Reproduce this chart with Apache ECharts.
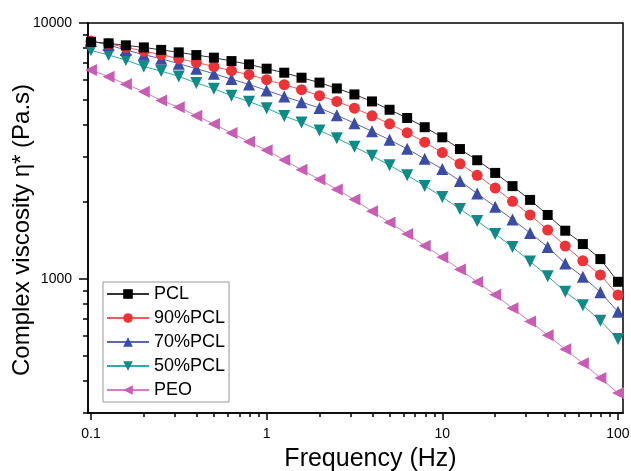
<!DOCTYPE html>
<html>
<head>
<meta charset="utf-8">
<script src="https://cdn.jsdelivr.net/npm/echarts@6/dist/echarts.min.js"></script>
<style>
html,body{margin:0;padding:0;background:#fff;}
#chart{width:631px;height:471px;}
</style>
</head>
<body>
<div id="chart"></div>
<script>
// Frequency (Hz)
var freq = [0.1, 0.126, 0.158, 0.2, 0.251, 0.316, 0.398, 0.501, 0.631, 0.794,
            1, 1.26, 1.58, 2, 2.51, 3.16, 3.98, 5.01, 6.31, 7.94,
            10, 12.6, 15.8, 20, 25.1, 31.6, 39.8, 50.1, 63.1, 79.4, 100];
// Complex viscosity (Pa.s)
var pcl = [8440, 8330, 8180, 8030, 7855, 7680, 7496, 7322, 7101, 6893,
           6631, 6396, 6115, 5850, 5553, 5261, 4940, 4584, 4257, 3918,
           3578, 3219, 2911, 2598, 2307, 2038, 1780, 1545, 1370, 1197, 976];
var pcl90 = [8480, 8290, 8033, 7765, 7524, 7257, 7018, 6758, 6514, 6283,
             6007, 5741, 5488, 5204, 4940, 4650, 4342, 4041, 3729, 3423,
             3119, 2821, 2543, 2266, 2012, 1780, 1555, 1346, 1179, 1038, 866];
var pcl70 = [8504, 8200, 7843, 7524, 7257, 6937, 6631, 6339, 6039, 5757,
             5454, 5166, 4908, 4658, 4362, 4063, 3776, 3498, 3225, 2948,
             2689, 2417, 2157, 1918, 1709, 1514, 1334, 1151, 1021, 889, 745];
var pcl50 = [7822, 7496, 7166, 6758, 6490, 6188, 5834, 5538, 5200, 4931,
             4650, 4334, 4088, 3803, 3545, 3287, 3031, 2782, 2543, 2311,
             2093, 1879, 1686, 1500, 1334, 1172, 1027, 892, 791, 687, 584];
var peo = [6560, 6171, 5771, 5390, 4984, 4693, 4342, 4033, 3719, 3439,
           3182, 2916, 2670, 2450, 2240, 2044, 1839, 1665, 1500, 1350,
           1217, 1090, 974, 868, 769, 683, 604, 532, 469, 411, 359];
var seriesNames = ['PCL', '90%PCL', '70%PCL', '50%PCL', 'PEO'];
// Tick values
var xMajor = [0.1, 1, 10, 100];
var xMinor = [0.2, 0.3, 0.4, 0.5, 0.6, 0.7, 0.8, 0.9,
              2, 3, 4, 5, 6, 7, 8, 9,
              20, 30, 40, 50, 60, 70, 80, 90];
var yMajor = [1000, 10000];
var yMinor = [300, 400, 500, 600, 700, 800, 900,
              2000, 3000, 4000, 5000, 6000, 7000, 8000, 9000];

function pairs(ys) {
  return freq.map(function (f, i) { return [f, ys[i]]; });
}

var FONT = 'Arial, "Liberation Sans", sans-serif';
var xMin = 0.0962, xMax = 106.8, yMin = 300, yMax = 10000;

var styles = [
  { color: '#000000', line: '#333333', symbol: 'rect', size: 10, rot: 0 },
  { color: '#ee3338', line: '#ee5a5e', symbol: 'circle', size: 11, rot: 0 },
  { color: '#3a4ca6', line: '#5a68b4', symbol: 'triangle', size: 12, rot: 0 },
  { color: '#0e8a87', line: '#30aaa6', symbol: 'triangle', size: 12, rot: 180 },
  { color: '#c95db5', line: '#d57cc4', symbol: 'triangle', size: 12, rot: 90 }
];
var datas = [pcl, pcl90, pcl70, pcl50, peo];

var series = datas.map(function (d, k) {
  var s = styles[k];
  return {
    name: seriesNames[k],
    type: 'line',
    data: pairs(d),
    symbol: s.symbol,
    symbolSize: s.size,
    symbolRotate: s.rot,
    showAllSymbol: true,
    animation: false,
    itemStyle: { color: s.color },
    lineStyle: { color: s.line, width: 1 },
    z: 10 - k
  };
});

var chart = echarts.init(document.getElementById('chart'), null, { renderer: 'canvas' });
chart.setOption({
  backgroundColor: '#ffffff',
  animation: false,
  grid: { left: 88, right: 8, top: 23, bottom: 58, containLabel: false, outerBoundsMode: 'none',
          show: true, borderColor: '#000', borderWidth: 1.5, backgroundColor: 'transparent' },
  legend: {
    orient: 'vertical', left: 103, top: 282,
    backgroundColor: '#fff', borderColor: '#999', borderWidth: 1,
    padding: [3, 4, 3, 3],
    itemWidth: 42, itemHeight: 12, itemGap: 6,
    textStyle: { fontFamily: FONT, fontSize: 18, color: '#000', lineHeight: 18 },
    data: seriesNames
  },
  xAxis: [{
    type: 'log', logBase: 10, min: xMin, max: xMax, position: 'bottom',
    name: 'Frequency (Hz)', nameLocation: 'middle', nameGap: 34, nameMoveOverlap: false,
    nameTextStyle: { fontFamily: FONT, fontSize: 25, color: '#000', padding: [0, 0, 0, 30] },
    axisLine: { show: true, lineStyle: { color: '#000', width: 1.5 } },
    axisTick: { show: true, inside: false, length: 7, lineStyle: { color: '#000', width: 1.5 }, customValues: xMajor },
    axisLabel: { show: true, customValues: xMajor, margin: 14, fontFamily: FONT, fontSize: 14, color: '#000',
                 formatter: function (v) { return String(v); } },
    splitLine: { show: false }, minorTick: { show: false }
  }, {
    type: 'log', logBase: 10, min: xMin, max: xMax, position: 'bottom', gridIndex: 0,
    axisLine: { show: false },
    axisTick: { show: true, inside: false, length: 4, lineStyle: { color: '#000', width: 1.5 }, customValues: xMinor },
    axisLabel: { show: false }, splitLine: { show: false }
  }],
  yAxis: [{
    type: 'log', logBase: 10, min: yMin, max: yMax, position: 'left',
    name: 'Complex viscosity \u03b7* (Pa.s)', nameLocation: 'middle', nameGap: 54, nameRotate: 90, nameMoveOverlap: false,
    nameTextStyle: { fontFamily: FONT, fontSize: 24, color: '#000', padding: [0, 24, 0, 0] },
    axisLine: { show: true, lineStyle: { color: '#000', width: 1.5 } },
    axisTick: { show: true, inside: false, length: 9, lineStyle: { color: '#000', width: 1.5 }, customValues: yMajor },
    axisLabel: { show: true, customValues: yMajor, margin: 16, fontFamily: FONT, fontSize: 14, color: '#000',
                 formatter: function (v) { return String(Math.round(v)); } },
    splitLine: { show: false }, minorTick: { show: false }
  }, {
    type: 'log', logBase: 10, min: yMin, max: yMax, position: 'left', gridIndex: 0,
    axisLine: { show: false },
    axisTick: { show: true, inside: false, length: 5, lineStyle: { color: '#000', width: 1.5 }, customValues: yMinor },
    axisLabel: { show: false }, splitLine: { show: false }
  }],
  series: series
});
</script>
</body>
</html>
